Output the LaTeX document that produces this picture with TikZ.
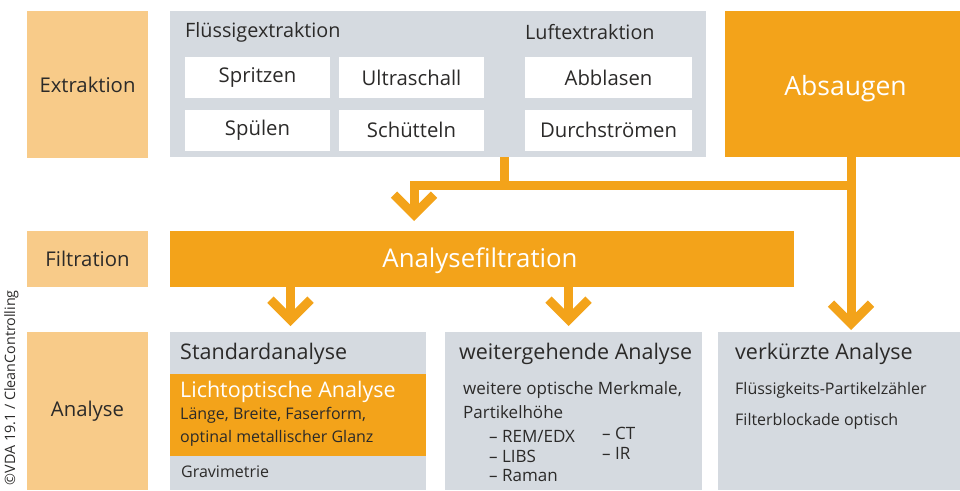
\documentclass[tikz,border=0pt]{standalone}
\usepackage{fontspec}
\setmainfont{Open Sans}
\usetikzlibrary{arrows.meta,calc}
\definecolor{lightor}{HTML}{F8CB89}
\definecolor{orng}{HTML}{F3A31A}
\definecolor{greybg}{HTML}{D5DAE0}
\definecolor{ink}{HTML}{2B2A29}
\newcommand{\fsz}[1]{\fontsize{#1}{#1}\selectfont}
\begin{document}
\begin{tikzpicture}[x=1pt,y=-1pt,
  box/.style={inner sep=0pt, outer sep=0pt, anchor=north west, text=ink},
  stage/.style={box, fill=lightor, minimum width=121, font=\fsz{20.3}},
  panel/.style={box, fill=greybg},
  method/.style={box, fill=white, minimum width=145, minimum height=41, font=\fsz{20.3}},
  bigbox/.style={box, fill=orng},
  bigtext/.style={inner sep=0pt, anchor=base, text=white, font=\fsz{26.5}},
  label/.style={inner sep=0pt, anchor=west, text=ink},
  head/.style={label, font=\fsz{19.8}},
  head2/.style={label, font=\fsz{21.5}},
  item/.style={label, font=\fsz{16}},
  itemw/.style={label, font=\fsz{17}},
  flow/.style={draw=orng, line width=9pt, line join=miter,
    -{Straight Barb[length=20pt,width=40pt]}},
  pipe/.style={draw=orng, line width=9pt, line join=miter}]
\useasboundingbox (0,0) rectangle (960,490);

% extraction row
\node[stage, minimum height=147] (extr) at (27,11) {Extraktion};
\node[panel, minimum width=536, minimum height=146] (extbox) at (170,11) {};
\node[head] (fluess) at (185,32) {Flüssigextraktion};
\node[method] (spritzen) at (185,57) {Spritzen};
\node[method] (ultra) at (339,57) {Ultraschall};
\node[method] (spuelen) at (185,109.5) {Spülen};
\node[method] (schuett) at (339,109.5) {Schütteln};
\node[head] (luft) at (525,32) {Luftextraktion};
\node[method, minimum width=167] (abbl) at (525,57) {Abblasen};
\node[method, minimum width=167] (durch) at (525,109.5) {Durchströmen};
\node[bigbox, minimum width=235, minimum height=146] (abs) at (725,11) {};
\node[bigtext] (absl) at (845.5,95) {Absaugen};

% filtration row
\node[stage, minimum height=56] (filtr) at (27,231) {Filtration};
\node[bigbox, minimum width=624, minimum height=56] (afilt) at (170,231) {};
\node[bigtext, font=\fsz{25.8}] (afiltl) at (480,267) {Analysefiltration};

% analysis row
\node[stage, minimum height=158] (anal) at (27,332) {Analyse};
\node[panel, minimum width=256, minimum height=158] (std) at (170,332) {};
\node[head2] (stdh) at (180,354) {Standardanalyse};
\node[box, fill=orng, minimum width=256, minimum height=82] (licht) at (170,374) {};
\node[head2, text=white] (lichth) at (180,392) {Lichtoptische Analyse};
\node[item] (l1) at (180,415) {Länge, Breite, Faserform,};
\node[item] (l2) at (180,438) {optinal metallischer Glanz};
\node[item] (grav) at (181,472) {Gravimetrie};

\node[panel, minimum width=257, minimum height=158] (weit) at (445,332) {};
\node[head2] (weith) at (459,354) {weitergehende Analyse};
\node[itemw] (w1) at (463,390) {weitere optische Merkmale,};
\node[itemw] (w2) at (463,412) {Partikelhöhe};
\node[itemw] (w3) at (489,436) {– REM/EDX};
\node[itemw] (w4) at (489,456) {– LIBS};
\node[itemw] (w5) at (489,476) {– Raman};
\node[itemw] (w6) at (602,433) {– CT};
\node[itemw] (w7) at (602,453) {– IR};

\node[panel, minimum width=242, minimum height=158] (verk) at (718,332) {};
\node[head2] (verkh) at (735,354) {verkürzte Analyse};
\node[item] (v1) at (735,390) {Flüssigkeits-Partikelzähler};
\node[item] (v2) at (735,421) {Filterblockade optisch};

% copyright line
\node[inner sep=0pt, rotate=90, anchor=east, text=ink, font=\fsz{14.3}] (copy) at (11.5,290) {©VDA 19.1 / CleanControlling};

% connectors
\coordinate (busL) at (414,185);
\coordinate (busR) at (851,185);
\coordinate (exout) at (504,185);
\draw[pipe] (extbox.south -| exout) -- (exout);
\draw[flow, shorten >=2pt] (abs.south -| busR) -- (verk.north -| busR);
\draw[flow, shorten >=10pt] (busR) -| (afilt.north -| busL);
\draw[flow, shorten >=6pt] ($(afilt.south west)+(120.5,0)$) -- ($(std.north west)+(120.5,0)$);
\draw[flow, shorten >=6pt] ($(afilt.south west)+(398.5,0)$) -- ($(weit.north west)+(123.5,0)$);
\end{tikzpicture}
\end{document}
